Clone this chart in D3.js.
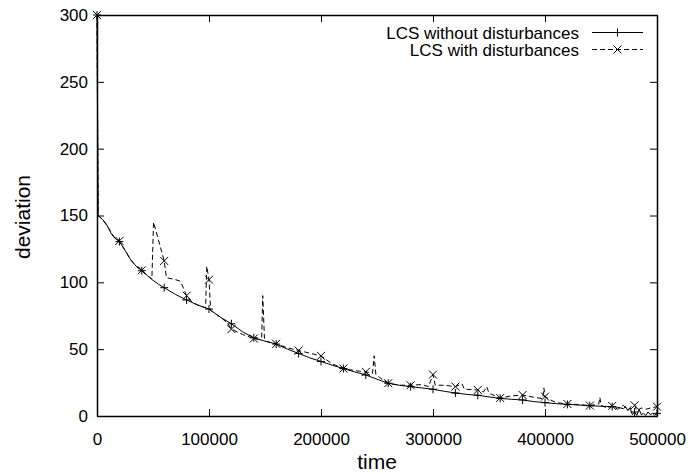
<!DOCTYPE html>
<html>
<head>
<meta charset="utf-8">
<script src="https://cdn.jsdelivr.net/npm/d3@7"></script>
<style>
  html, body { margin: 0; padding: 0; background: #fff; }
  svg { display: block; }
  text { font-family: "Liberation Sans", Arial, Helvetica, sans-serif; fill: #000; }
</style>
</head>
<body>
<svg id="chart" width="695" height="474"></svg>
<script>
// ---- Data ----
const seriesNames = ["LCS without disturbances", "LCS with disturbances"];

const timeWithout = [0, 1000, 5000, 8000, 10000, 13000, 16000, 20000, 25000, 30000, 35000, 40000, 45000, 50000, 55000, 60000, 70000, 80000, 90000, 100000,
  110000, 120000, 130000, 140000, 150000, 160000, 170000, 180000, 190000, 200000, 210000, 220000, 230000, 240000, 250000, 260000, 270000, 280000, 290000, 300000,
  310000, 320000, 330000, 340000, 350000, 360000, 370000, 380000, 390000, 400000, 410000, 420000, 430000, 440000, 450000, 460000, 465000, 470000, 472000, 474000,
  476000, 478000, 480000, 482000, 484000, 486000, 488000, 490000, 492000, 494000, 496000, 498000, 500000];
const devWithout = [300, 150, 147, 144, 141, 136, 133, 130.5, 124, 117, 112, 108.7, 105, 101.5, 98.5, 96, 91, 86.8, 83, 80,
  74, 69, 63, 58.5, 56, 53.8, 50, 46.8, 43.5, 40.8, 38, 35.5, 33, 30.7, 27.5, 24.5, 23, 22, 21, 20,
  18.5, 17.2, 16.2, 15.5, 14.3, 13.2, 12.5, 12, 10.8, 10, 9.2, 8.7, 8.2, 7.7, 7.3, 7, 6.5, 5.5, 7, 4,
  6, 1, 3, 0.5, 5, 1, 2, 0.5, 3, 1, 2, 0.5, 2];

const timeWith = [0, 1000, 5000, 10000, 16000, 20000, 25000, 30000, 35000, 40000, 45000, 49000, 50500, 60000, 62000, 70000, 74000, 76000, 80000, 85000,
  90000, 95000, 97000, 98000, 100000, 101500, 110000, 116000, 120000, 130000, 140000, 146000, 147000, 148000, 149500, 150000, 160000, 170000, 180000, 190000,
  200000, 210000, 220000, 230000, 240000, 246000, 247500, 249000, 252000, 260000, 270000, 280000, 290000, 296000, 300000, 302000, 310000, 320000, 326000, 328000,
  330000, 340000, 345000, 348000, 350000, 360000, 370000, 380000, 390000, 398000, 399000, 400000, 405000, 410000, 420000, 430000, 440000, 448000, 449000, 450000,
  455000, 460000, 465000, 470000, 474000, 478000, 480000, 482000, 486000, 490000, 494000, 500000];
const devWith = [300, 150, 147, 141, 133, 131, 124, 117, 112, 109, 105, 102.5, 145, 116, 103.5, 102, 101, 98, 90, 85,
  83, 81.5, 81, 112, 102, 79, 74, 70, 65, 61, 58, 57, 58, 90, 58, 56, 54, 51, 49, 47,
  45, 39, 35.5, 34, 33, 32, 45, 31, 29, 24.5, 23, 23, 23.5, 22, 31, 23, 23, 22, 24, 20,
  20, 19.5, 18, 22, 17, 13.5, 15, 15.7, 14, 13, 21, 14.5, 12, 10, 9, 8.5, 7.8, 9, 14, 8,
  6, 7.5, 5, 8, 4.5, 8, 8, 4, 6, 5, 6, 7];

const xTicks = [0, 100000, 200000, 300000, 400000, 500000];
const yTicks = [0, 50, 100, 150, 200, 250, 300];
const markerEvery = 20000;

// ---- Layout ----
const svg = d3.select("#chart");
const padL = 97, padR = 657, padT = 15, padB = 416;
const x = d3.scaleLinear().domain([0, 500000]).range([padL, padR]);
const y = d3.scaleLinear().domain([0, 300]).range([padB, padT]);
const fontTick = "17px";
const dash = "5,3";

// Axes with inward ticks, mirrored on top/right
const gx = svg.append("g").attr("transform", `translate(0,${padB})`)
  .call(d3.axisBottom(x).tickValues(xTicks).tickFormat(d3.format("d")).tickSizeInner(-7).tickSizeOuter(0).tickPadding(17));
const gy = svg.append("g").attr("transform", `translate(${padL},0)`)
  .call(d3.axisLeft(y).tickValues(yTicks).tickFormat(d3.format("d")).tickSizeInner(-7).tickSizeOuter(0).tickPadding(9));
const gt = svg.append("g").attr("transform", `translate(0,${padT})`)
  .call(d3.axisTop(x).tickValues(xTicks).tickFormat("").tickSizeInner(-7).tickSizeOuter(0));
const gr = svg.append("g").attr("transform", `translate(${padR},0)`)
  .call(d3.axisRight(y).tickValues(yTicks).tickFormat("").tickSizeInner(-7).tickSizeOuter(0));

[gx, gy, gt, gr].forEach(g => {
  g.selectAll(".domain").attr("stroke", "#000").attr("stroke-width", 1.5);
  g.selectAll(".tick line").attr("stroke", "#000").attr("stroke-width", 1);
  g.selectAll(".tick text").attr("font-size", fontTick).attr("font-family", "Liberation Sans, Arial, sans-serif").attr("fill", "#000");
});

// Axis titles
svg.append("text").attr("x", (padL + padR) / 2).attr("y", 469)
  .attr("text-anchor", "middle").attr("font-size", "21px").text("time");
svg.append("text").attr("transform", "translate(30,217) rotate(-90)")
  .attr("text-anchor", "middle").attr("font-size", "21px").text("deviation");

// Lines
const dataWithout = timeWithout.map((t, i) => ({ t, v: devWithout[i] }));
const dataWith = timeWith.map((t, i) => ({ t, v: devWith[i] }));
const line = d3.line().x(d => x(d.t)).y(d => y(d.v));

svg.append("path").datum(dataWithout).attr("d", line)
  .attr("fill", "none").attr("stroke", "#000").attr("stroke-width", 1);
svg.append("path").datum(dataWith).attr("d", line)
  .attr("fill", "none").attr("stroke", "#000").attr("stroke-width", 1).attr("stroke-dasharray", dash);

const ms = 4;
function plus(g, cx, cy) {
  g.append("path").attr("d", `M${cx - ms},${cy}H${cx + ms}M${cx},${cy - ms}V${cy + ms}`)
    .attr("stroke", "#000").attr("stroke-width", 1).attr("fill", "none");
}
function cross(g, cx, cy) {
  g.append("path").attr("d", `M${cx - ms},${cy - ms}L${cx + ms},${cy + ms}M${cx - ms},${cy + ms}L${cx + ms},${cy - ms}`)
    .attr("stroke", "#000").attr("stroke-width", 1).attr("fill", "none");
}
const mg = svg.append("g");
dataWithout.filter(d => d.t % markerEvery === 0).forEach(d => plus(mg, x(d.t), y(d.v)));
dataWith.filter(d => d.t % markerEvery === 0).forEach(d => cross(mg, x(d.t), y(d.v)));

// Legend
const lg = svg.append("g");
const legendRows = [{ name: seriesNames[0], dash: null, mark: plus, ty: 38.5, ly: 32.5 },
                    { name: seriesNames[1], dash: dash, mark: cross, ty: 56, ly: 49.5 }];
legendRows.forEach(r => {
  lg.append("text").attr("x", 579).attr("y", r.ty).attr("text-anchor", "end")
    .attr("font-size", "17px").text(r.name);
  lg.append("line").attr("x1", 592).attr("x2", 643).attr("y1", r.ly).attr("y2", r.ly)
    .attr("stroke", "#000").attr("stroke-width", 1).attr("stroke-dasharray", r.dash);
  r.mark(lg, 617.5, r.ly);
});
</script>
</body>
</html>
